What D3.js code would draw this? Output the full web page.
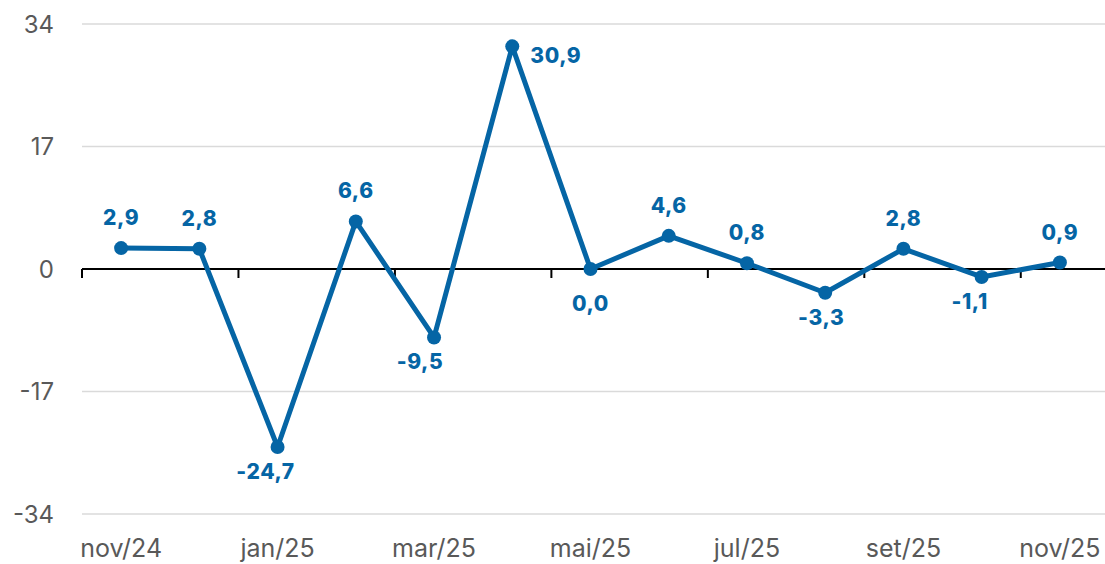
<!DOCTYPE html>
<html><head><meta charset="utf-8">
<script src="https://cdn.jsdelivr.net/npm/d3@7/dist/d3.min.js"></script>
<style>
html,body{margin:0;padding:0;background:#fff;}
svg{display:block;font-family:Inter, "Open Sans", sans-serif;}
</style></head>
<body>
<svg id="c" width="1105" height="564"></svg>
<script>
const months = ["nov/24","dez/24","jan/25","fev/25","mar/25","abr/25","mai/25","jun/25","jul/25","ago/25","set/25","out/25","nov/25"];
const values = [2.9, 2.8, -24.7, 6.6, -9.5, 30.9, 0.0, 4.6, 0.8, -3.3, 2.8, -1.1, 0.9];
const yTicks = [-34, -17, 0, 17, 34];
// label placement per point (as in the reference)
const labelPos = ["up","up","down","up","down","right","below-axis","up","up","down","up","down","up"];
const labelNudge = [0, 0, -12, 0, -14, 0, 0, 0, 0, -4, 0, -12, 0];

(function () {
const svg = d3.select("#c");
const mLeft = 82, mRight = 1099, mTop = 24, mBottom = 514;
const x = d3.scaleBand().domain(months).range([mLeft, mRight]);
const y = d3.scaleLinear().domain([-34, 34]).range([mBottom, mTop]);
const blue = "#0565a5";

// gridlines
svg.append("g").selectAll("line").data(yTicks.filter(d => d !== 0)).join("line")
  .attr("x1", mLeft).attr("x2", 1105).attr("y1", d => y(d)).attr("y2", d => y(d))
  .attr("stroke", "#dadada").attr("stroke-width", 1.5);

// y labels
svg.append("g").selectAll("text").data(yTicks).join("text")
  .attr("x", 54).attr("y", d => y(d)).attr("dy", "0.36em")
  .attr("text-anchor", "end").attr("fill", "#595959").attr("font-size", 24)
  .text(d => d);

// zero axis
svg.append("line").attr("x1", mLeft).attr("x2", 1105).attr("y1", y(0)).attr("y2", y(0))
  .attr("stroke", "#000").attr("stroke-width", 2);
const tickIdx = months.map((m, i) => i).filter(i => i % 2 === 0);
svg.append("g").selectAll("line").data(tickIdx).join("line")
  .attr("x1", i => x(months[i])).attr("x2", i => x(months[i]))
  .attr("y1", y(0)).attr("y2", y(0) + 9)
  .attr("stroke", "#000").attr("stroke-width", 2);

// x labels
svg.append("g").selectAll("text").data(months.filter((m, i) => i % 2 === 0)).join("text")
  .attr("x", d => x(d) + x.bandwidth() / 2).attr("y", 557)
  .attr("text-anchor", "middle").attr("fill", "#595959").attr("font-size", 25)
  .text(d => d);

const cx = (d, i) => x(months[i]) + x.bandwidth() / 2;
const line = d3.line().x((d, i) => cx(d, i)).y(d => y(d));
svg.append("path").datum(values).attr("d", line)
  .attr("fill", "none").attr("stroke", blue).attr("stroke-width", 5).attr("stroke-linejoin", "round");

svg.append("g").selectAll("circle").data(values).join("circle")
  .attr("cx", cx).attr("cy", d => y(d)).attr("r", 7).attr("fill", blue);

const fmt = v => v.toFixed(1).replace(".", ",");
const dyFor = p => p === "up" ? -23 : p === "down" ? 32 : p === "below-axis" ? 42 : 17;
svg.append("g").selectAll("text").data(values).join("text")
  .attr("x", (d, i) => labelPos[i] === "right" ? cx(d, i) + 18 : cx(d, i) + labelNudge[i])
  .attr("y", (d, i) => y(d) + dyFor(labelPos[i]))
  .attr("text-anchor", (d, i) => labelPos[i] === "right" ? "start" : "middle")
  .attr("fill", blue).attr("font-size", 21).attr("font-weight", 800)
  .attr("letter-spacing", 0.6)
  .text(fmt);
})();
</script>
</body></html>
